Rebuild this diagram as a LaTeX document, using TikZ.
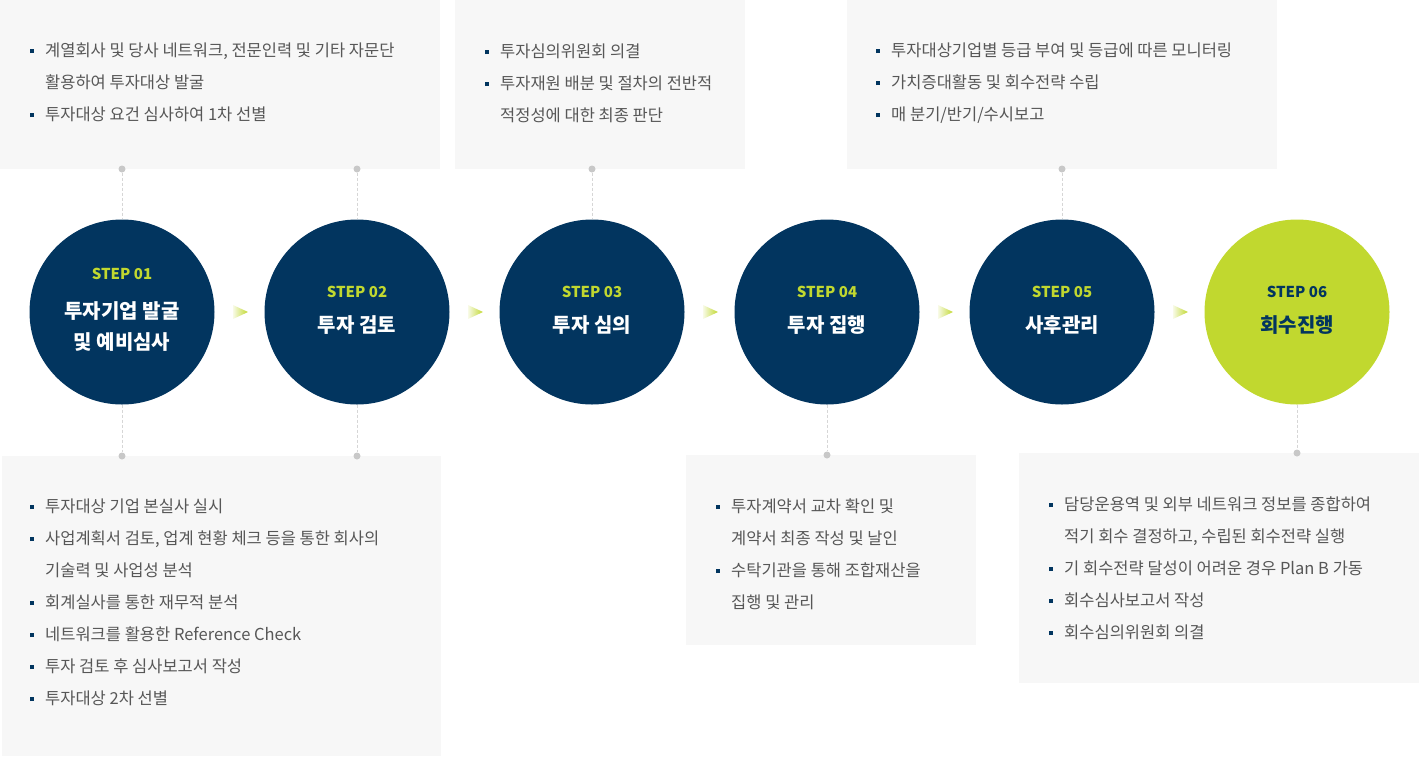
\documentclass[tikz,border=0pt]{standalone}
\usepackage{fontspec}
\setmainfont{Noto Sans CJK KR}
\usetikzlibrary{calc}
\definecolor{navy}{HTML}{02355F}
\definecolor{lime}{HTML}{C1D82F}
\definecolor{boxbg}{HTML}{F7F7F7}
\definecolor{txtgray}{HTML}{575757}
\definecolor{linegray}{HTML}{D6D6D6}
\definecolor{dotgray}{HTML}{C8C8C8}
\newcommand\sq{\textcolor{navy}{\rule[3pt]{4pt}{4pt}}\hspace{11pt}}
\tikzset{
  stepcircle/.style={circle, fill=navy, minimum size=185pt, inner sep=0},
  steplbl/.style={font=\fontsize{15}{18}\selectfont\bfseries, text=lime, inner sep=0},
  steptitle/.style={font=\fontsize{20}{24}\selectfont\bfseries, text=white, inner sep=0},
  itemtxt/.style={anchor=base west, inner sep=0, text=txtgray, font=\fontsize{16.5}{20}\selectfont},
  joint/.style={draw=linegray, dash pattern=on 3pt off 2pt, line width=1pt},
  jdot/.style={circle, fill=dotgray, minimum size=7pt, inner sep=0},
}

\begin{document}
\begin{tikzpicture}[x=1pt, y=-1pt]
		%%%%% START %%%%%
		\useasboundingbox (0, 0) rectangle (1419, 756);
		
		% boxes
		\fill[boxbg] (0, 0) rectangle (440, 169);
		\fill[boxbg] (455, 0) rectangle (745, 169);
		\fill[boxbg] (847, 0) rectangle (1277, 169);
		\fill[boxbg] (2, 456) rectangle (441, 756);
		\fill[boxbg] (686, 455) rectangle (976, 645);
		\fill[boxbg] (1019, 453) rectangle (1419, 683);
		
		% steps
		\node[stepcircle] (c1) at (122, 312) {};
		\node[stepcircle] (c2) at (357, 312) {};
		\node[stepcircle] (c3) at (592, 312) {};
		\node[stepcircle] (c4) at (827, 312) {};
		\node[stepcircle] (c5) at (1062, 312) {};
		\node[stepcircle, fill=lime] (c6) at (1297, 312) {};
		
		\node[steplbl] (s1) at (122, 274) {STEP 01};
		\node[steptitle] (h1a) at (122, 311) {투자기업 발굴};
		\node[steptitle] (h1b) at (122, 342) {및 예비심사};
		\node[steplbl] (s2) at (357, 292) {STEP 02};
		\node[steptitle] (h2) at (357, 325) {투자 검토};
		\node[steplbl] (s3) at (592, 292) {STEP 03};
		\node[steptitle] (h3) at (592, 325) {투자 심의};
		\node[steplbl] (s4) at (827, 292) {STEP 04};
		\node[steptitle] (h4) at (827, 325) {투자 집행};
		\node[steplbl] (s5) at (1062, 292) {STEP 05};
		\node[steptitle] (h5) at (1062, 325) {사후관리};
		\node[steplbl, text=navy] (s6) at (1297, 292) {STEP 06};
		\node[steptitle, text=navy] (h6) at (1297, 325) {회수진행};
		
		% arrows
		\shade[left color=lime!12, right color=lime] (233, 305) -- (248, 312) -- (233, 319) -- cycle;
		\shade[left color=lime!12, right color=lime] (468, 305) -- (483, 312) -- (468, 319) -- cycle;
		\shade[left color=lime!12, right color=lime] (703, 305) -- (718, 312) -- (703, 319) -- cycle;
		\shade[left color=lime!12, right color=lime] (938, 305) -- (953, 312) -- (938, 319) -- cycle;
		\shade[left color=lime!12, right color=lime] (1173, 305) -- (1188, 312) -- (1173, 319) -- cycle;
		
		% connectors
		\node[jdot] (d1) at (122, 169) {};
		\node[jdot] (d2) at (357, 169) {};
		\node[jdot] (d3) at (592, 169) {};
		\node[jdot] (d5) at (1062, 169) {};
		\node[jdot] (e1) at (122, 456) {};
		\node[jdot] (e2) at (357, 456) {};
		\node[jdot] (e4) at (827, 455) {};
		\node[jdot] (e6) at (1297, 453) {};
		\draw[joint] (d1) -- (c1);
		\draw[joint] (d2) -- (c2);
		\draw[joint] (d3) -- (c3);
		\draw[joint] (d5) -- (c5);
		\draw[joint] (c1) -- (e1);
		\draw[joint] (c2) -- (e2);
		\draw[joint] (c4) -- (e4);
		\draw[joint] (c6) -- (e6);
		
		% box texts
		\node[itemtxt] (a1) at (30, 56) {\sq 계열회사 및 당사 네트워크, 전문인력 및 기타 자문단};
		\node[itemtxt] (a2) at (45, 88) {활용하여 투자대상 발굴};
		\node[itemtxt] (a3) at (30, 120) {\sq 투자대상 요건 심사하여 1차 선별};
		
		\node[itemtxt] (b1) at (485, 57) {\sq 투자심의위원회 의결};
		\node[itemtxt] (b2) at (485, 89) {\sq 투자재원 배분 및 절차의 전반적};
		\node[itemtxt] (b3) at (500, 121) {적정성에 대한 최종 판단};
		
		\node[itemtxt] (f1) at (876, 56) {\sq 투자대상기업별 등급 부여 및 등급에 따른 모니터링};
		\node[itemtxt] (f2) at (876, 88) {\sq 가치증대활동 및 회수전략 수립};
		\node[itemtxt] (f3) at (876, 120) {\sq 매 분기/반기/수시보고};
		
		\node[itemtxt] (g1) at (30, 512) {\sq 투자대상 기업 본실사 실시};
		\node[itemtxt] (g2) at (30, 544) {\sq 사업계획서 검토, 업계 현황 체크 등을 통한 회사의};
		\node[itemtxt] (g3) at (45, 576) {기술력 및 사업성 분석};
		\node[itemtxt] (g4) at (30, 608) {\sq 회계실사를 통한 재무적 분석};
		\node[itemtxt] (g5) at (30, 640) {\sq 네트워크를 활용한 Reference Check};
		\node[itemtxt] (g6) at (30, 672) {\sq 투자 검토 후 심사보고서 작성};
		\node[itemtxt] (g7) at (30, 704) {\sq 투자대상 2차 선별};
		
		\node[itemtxt] (k1) at (716, 512) {\sq 투자계약서 교차 확인 및};
		\node[itemtxt] (k2) at (731, 544) {계약서 최종 작성 및 날인};
		\node[itemtxt] (k3) at (716, 576) {\sq 수탁기관을 통해 조합재산을};
		\node[itemtxt] (k4) at (731, 608) {집행 및 관리};
		
		\node[itemtxt] (r1) at (1049, 510) {\sq 담당운용역 및 외부 네트워크 정보를 종합하여};
		\node[itemtxt] (r2) at (1064, 542) {적기 회수 결정하고, 수립된 회수전략 실행};
		\node[itemtxt] (r3) at (1049, 574) {\sq 기 회수전략 달성이 어려운 경우 Plan B 가동};
		\node[itemtxt] (r4) at (1049, 606) {\sq 회수심사보고서 작성};
		\node[itemtxt] (r5) at (1049, 638) {\sq 회수심의위원회 의결};
		
		%%%%% END %%%%%
	\end{tikzpicture}
\end{document}
